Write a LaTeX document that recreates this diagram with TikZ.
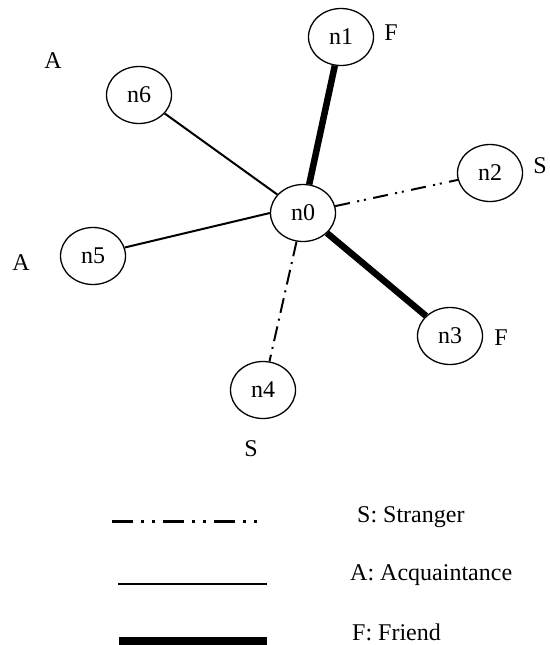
\documentclass[tikz,border=0pt]{standalone}
\usepackage{fontspec}
\setmainfont{Liberation Serif}
\usetikzlibrary{shapes.geometric}
\tikzset{
  person/.style={ellipse, draw, line width=1.3pt, minimum width=65pt,
    minimum height=57pt, inner sep=0pt, font=\fontsize{24}{28}\selectfont},
  tag/.style={inner sep=0pt, font=\fontsize{24}{28}\selectfont},
  legendtext/.style={tag, anchor=base west},
  friend/.style={line width=6.5pt},
  acquaintance/.style={line width=2pt},
  stranger/.style={line width=2pt,
    dash pattern=on 15pt off 7.5pt on 2pt off 4.8pt on 2pt off 7.5pt},
  strangeralt/.style={line width=2pt,
    dash pattern=on 15pt off 6pt on 2pt off 6pt},
}
\begin{document}
\begin{tikzpicture}[x=1pt,y=-1pt]
\useasboundingbox (0,0) rectangle (549,645);

% people
\node[person] (n0) at (303,213) {n0};
\node[person] (n1) at (341,37) {n1};
\node[person] (n2) at (490,173) {n2};
\node[person] (n3) at (450,336) {n3};
\node[person] (n4) at (263,390) {n4};
\node[person] (n5) at (93,256) {n5};
\node[person] (n6) at (139,95) {n6};

% relation tags
\node[tag] (t1) at (391,33) {F};
\node[tag] (t2) at (540,166) {S};
\node[tag] (t3) at (501,338) {F};
\node[tag] (t4) at (251,449) {S};
\node[tag] (t5) at (21,263) {A};
\node[tag] (t6) at (53,61) {A};

% relations
\draw[friend] (n0) -- (n1);
\draw[friend] (n0) -- (n3);
\draw[stranger] (n0) -- (n2);
\draw[strangeralt] (n0) -- (n4);
\draw[acquaintance] (n5.15) -- (n0.west);
\draw[acquaintance] (n6) -- (n0);

% legend
\coordinate (ls1) at (112,521);
\coordinate (ls2) at (258,521);
\coordinate (la1) at (118,584);
\coordinate (la2) at (267,584);
\coordinate (lf1) at (119,641);
\coordinate (lf2) at (267,641);
\draw[line width=3pt, dash pattern=on 21pt off 8pt on 3pt off 8pt on 3pt off 8pt] (ls1) -- (ls2);
\draw[line width=1.3pt] (la1) -- (la2);
\draw[line width=8pt] (lf1) -- (lf2);
\node[legendtext] (lsS) at (357,522) {S: Stranger};
\node[legendtext] (lsA) at (350,580) {A: Acquaintance};
\node[legendtext] (lsF) at (352,640) {F: Friend};
\end{tikzpicture}
\end{document}
